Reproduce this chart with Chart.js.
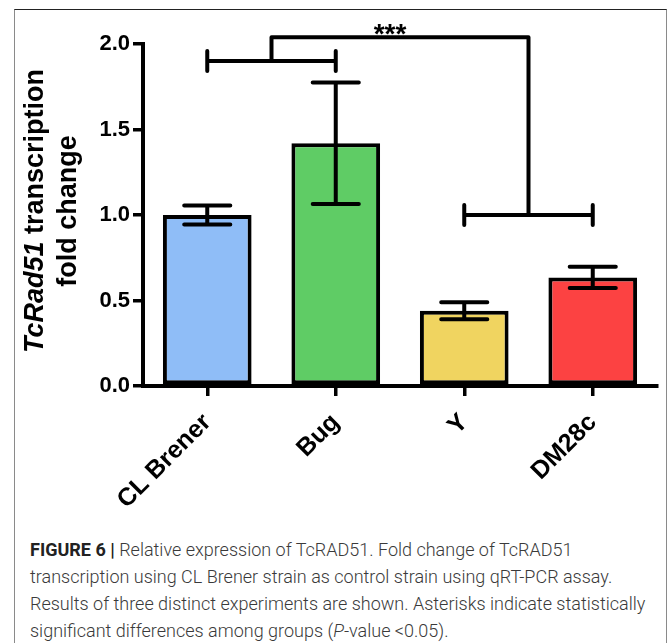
<!DOCTYPE html>
<html>
<head>
<meta charset="utf-8">
<script src="https://cdn.jsdelivr.net/npm/chart.js@4.4.0/dist/chart.umd.min.js"></script>
<style>
  html, body { margin: 0; padding: 0; background: #fff; }
  body { width: 672px; height: 643px; position: relative; overflow: hidden; }
  #frame {
    position: absolute; left: 14px; top: 9px; width: 651px; height: 700px;
    border-top: 1px solid #222; border-left: 1px solid #8a8a8a; border-right: 1px solid #8a8a8a;
  }
  #grafico { position: absolute; left: 0; top: 0; }
  #legenda {
    position: absolute; left: 30px; top: 536px; width: 640px;
    font-family: Roboto, "Liberation Sans", sans-serif; font-weight: 300;
    font-size: 18px; line-height: 27px; color: #3a3a3a; white-space: nowrap;
  }
  #legenda b { font-weight: 700; color: #222; }
</style>
</head>
<body>
<div id="frame"></div>
<canvas id="grafico" width="672" height="530"></canvas>
<div id="legenda">
  <b>FIGURE 6 |</b> Relative expression of TcRAD51. Fold change of TcRAD51<br>
  transcription using CL Brener strain as control strain using qRT-PCR assay.<br>
  Results of three distinct experiments are shown. Asterisks indicate statistically<br>
  significant differences among groups (<i>P</i>-value &lt;0.05).
</div>
<script>
const cepas = ["CL Brener", "Bug", "Y", "DM28c"];
const foldChange = [1.0, 1.42, 0.44, 0.635];
const erro = [0.055, 0.355, 0.05, 0.062];
const cores = ["#8fbdf7", "#5fcc65", "#f0d460", "#fc4242"];
const yTicks = [0, 0.5, 1.0, 1.5, 2.0];

// colchetes de significancia: pares de grupos e alturas (1o par, 2o par, ligacao)
const grupoA = [0, 1];
const grupoB = [2, 3];
const alturas = [1.9, 1.0, 2.04];
const marcaSig = "***";

const fonte = '"Liberation Sans", Arial, sans-serif';

const barrasDeErro = {
  id: "barrasDeErro",
  afterDatasetsDraw(chart) {
    const ctx = chart.ctx;
    const y = chart.scales.y;
    const meta = chart.getDatasetMeta(0);
    ctx.save();
    ctx.strokeStyle = "#000";
    ctx.lineWidth = 4;
    ctx.lineCap = "round";
    meta.data.forEach((bar, i) => {
      const topo = y.getPixelForValue(foldChange[i] + erro[i]);
      const base = y.getPixelForValue(foldChange[i] - erro[i]);
      const meio = bar.width * 0.26;
      ctx.beginPath();
      ctx.moveTo(bar.x, topo);
      ctx.lineTo(bar.x, base);
      ctx.moveTo(bar.x - meio, topo);
      ctx.lineTo(bar.x + meio, topo);
      ctx.moveTo(bar.x - meio, base);
      ctx.lineTo(bar.x + meio, base);
      ctx.stroke();
    });
    ctx.restore();
  },
};

const colchetes = {
  id: "colchetes",
  afterDraw(chart) {
    const ctx = chart.ctx;
    const x = chart.scales.x;
    const y = chart.scales.y;
    const px = (v) => x.getPixelForValue(v);
    const py = (v) => y.getPixelForValue(v);
    ctx.save();
    ctx.strokeStyle = "#000";
    ctx.lineWidth = 4;
    ctx.lineCap = "round";
    ctx.lineJoin = "round";

    function colchete(par, h) {
      const x1 = px(par[0]), x2 = px(par[1]), yy = py(h);
      ctx.beginPath();
      ctx.moveTo(x1, yy); ctx.lineTo(x2, yy);
      ctx.moveTo(x1, yy - 10); ctx.lineTo(x1, yy + 10);
      ctx.moveTo(x2, yy - 10); ctx.lineTo(x2, yy + 10);
      ctx.stroke();
    }
    colchete(grupoA, alturas[0]);
    colchete(grupoB, alturas[1]);

    const ma = px((grupoA[0] + grupoA[1]) / 2);
    const mb = px((grupoB[0] + grupoB[1]) / 2);
    const topo = py(alturas[2]);
    ctx.beginPath();
    ctx.moveTo(ma, py(alturas[0]));
    ctx.lineTo(ma, topo);
    ctx.lineTo(mb, topo);
    ctx.lineTo(mb, py(alturas[1]));
    ctx.stroke();

    ctx.fillStyle = "#000";
    ctx.font = "bold 28px " + fonte;
    ctx.textAlign = "center";
    ctx.textBaseline = "alphabetic";
    ctx.fillText(marcaSig, (ma + mb) / 2 - 10, topo + 6);
    ctx.restore();
  },
};

const tituloY = {
  id: "tituloY",
  afterDraw(chart) {
    const ctx = chart.ctx;
    const a = chart.chartArea;
    const cy = (a.top + a.bottom) / 2 - 4;
    ctx.save();
    ctx.fillStyle = "#000";
    ctx.textBaseline = "middle";
    ctx.translate(36, cy);
    ctx.rotate(-Math.PI / 2);
    const f1 = "italic bold 27px " + fonte;
    const f2 = "bold 27px " + fonte;
    ctx.font = f1;
    const w1 = ctx.measureText("TcRad51").width;
    ctx.font = f2;
    const w2 = ctx.measureText(" transcription").width;
    let x0 = -(w1 + w2) / 2;
    ctx.textAlign = "left";
    ctx.font = f1;
    ctx.fillText("TcRad51", x0, 0);
    ctx.font = f2;
    ctx.fillText(" transcription", x0 + w1, 0);
    ctx.textAlign = "center";
    ctx.fillText("fold change", 0, 33);
    ctx.restore();
  },
};

new Chart(document.getElementById("grafico"), {
  type: "bar",
  data: {
    labels: cepas,
    datasets: [
      {
        data: foldChange,
        backgroundColor: cores,
        borderColor: "#000",
        borderWidth: 4,
        borderSkipped: false,
        barPercentage: 0.69,
        categoryPercentage: 1.0,
      },
    ],
  },
  options: {
    responsive: false,
    animation: false,
    layout: { padding: { left: 0, right: 15, top: 44, bottom: 0 } },
    plugins: { legend: { display: false }, tooltip: { enabled: false } },
    scales: {
      x: {
        afterFit: (s) => { s.height = 144; },
        grid: { offset: false, drawOnChartArea: false, drawTicks: true, tickLength: 10, color: "#000", lineWidth: 3.5 },
        border: { color: "#000", width: 4 },
        ticks: {
          autoSkip: false, maxRotation: 45, minRotation: 45, padding: 12,
          color: "#000", font: { family: fonte, size: 25, weight: "bold" },
        },
      },
      y: {
        min: 0, max: 2,
        afterFit: (s) => { s.width = 143; },
        afterBuildTicks: (s) => { s.ticks = yTicks.map((v) => ({ value: v })); },
        grid: { drawOnChartArea: false, drawTicks: true, tickLength: 10, color: "#000", lineWidth: 3.5 },
        border: { color: "#000", width: 4 },
        ticks: {
          padding: 3, color: "#000",
          font: { family: fonte, size: 22, weight: "bold" },
          callback: (v) => Number(v).toFixed(1),
        },
      },
    },
  },
  plugins: [barrasDeErro, colchetes, tituloY],
});
</script>
</body>
</html>
